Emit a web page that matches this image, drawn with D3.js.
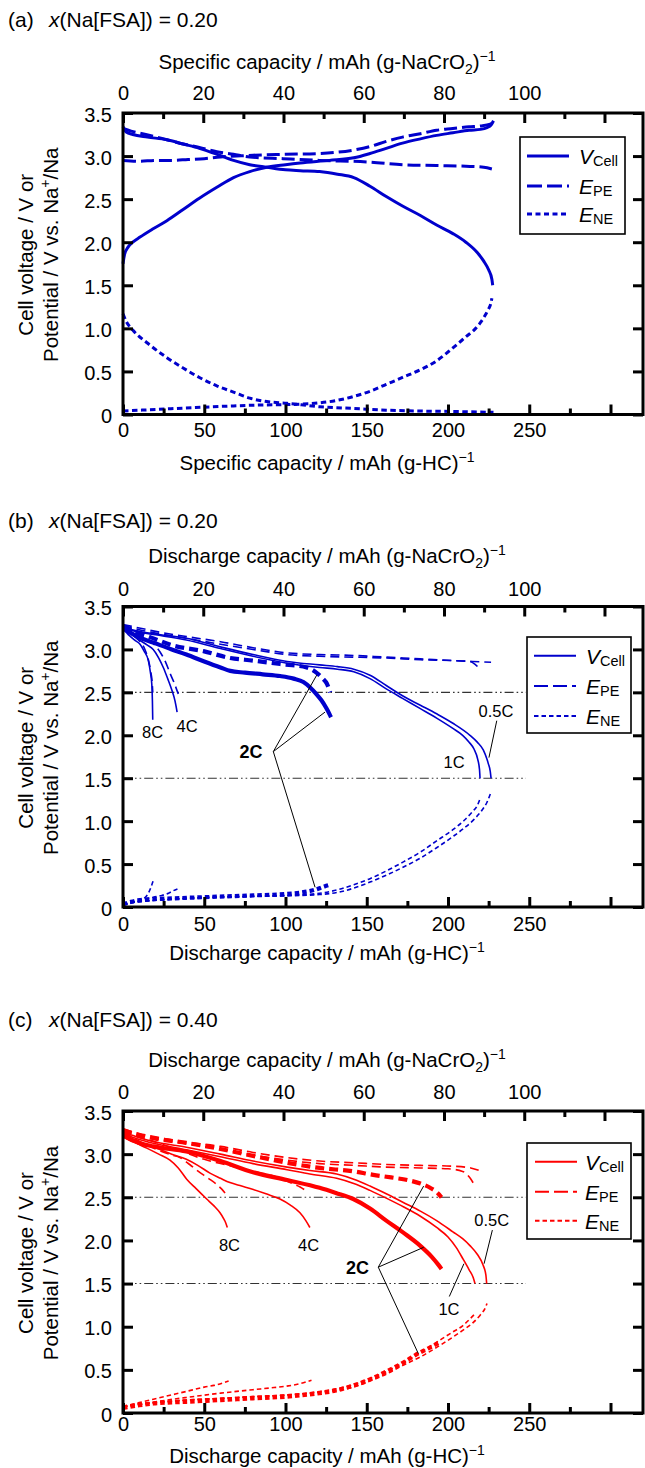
<!DOCTYPE html>
<html>
<head>
<meta charset="utf-8">
<script src="https://cdn.jsdelivr.net/npm/d3@7"></script>
<style>
  body { margin: 0; background: #fff; }
  svg { display: block; }
  text { font-family: "Liberation Sans", Arial, Helvetica, sans-serif; fill: #000; }
</style>
</head>
<body>
<svg id="fig" width="645" height="1468"></svg>
<script>
// ---------- axis ticks ----------
const Y_TICKS = [0, 0.5, 1.0, 1.5, 2.0, 2.5, 3.0, 3.5];
const Y_TICK_LABELS = ["0", "0.5", "1.0", "1.5", "2.0", "2.5", "3.0", "3.5"];
const HC_TICKS = [0, 50, 100, 150, 200, 250, 300];
const HC_TICK_LABELS = ["0", "50", "100", "150", "200", "250", ""];
const HC_MINOR = [25, 75, 125, 175, 225, 275];
const CR_TICKS = [0, 20, 40, 60, 80, 100, 120];
const CR_TICK_LABELS = ["0", "20", "40", "60", "80", "100", ""];
const CR_MINOR = [10, 30, 50, 70, 90, 110];
const REF_LEVELS = [2.5, 1.5];

// ---------- (a) charge / discharge, x(Na[FSA]) = 0.20 ----------
// points are [capacity / mAh (g-HC)^-1, voltage / V]
const A_VCELL_CHG = [[0,1.75],[1,1.86],[3,1.94],[6,2.0],[10.5,2.06],[18,2.15],[27,2.25],[37,2.38],[47,2.51],[58,2.64],[68,2.75],[78,2.82],[88.5,2.87],[100,2.9],[109,2.92],[127,2.95],[142,2.98],[152,3.03],[162,3.09],[172,3.15],[183,3.2],[193,3.24],[203,3.27],[213,3.3],[220,3.31],[224,3.33],[226.5,3.36],[228,3.41]];
const A_VCELL_DIS = [[0,3.34],[2,3.28],[6,3.25],[15,3.22],[27,3.19],[37,3.14],[47,3.09],[58,3.02],[68,2.95],[78,2.9],[88.5,2.87],[100,2.84],[109,2.83],[121,2.82],[132,2.79],[142,2.75],[152,2.65],[162,2.53],[172,2.42],[183,2.31],[193,2.2],[203,2.1],[211,2.0],[218,1.88],[222,1.78],[225,1.68],[227,1.57],[227.5,1.5]];
const A_EPE_CHG = [[0,2.95],[10,2.94],[20,2.95],[30,2.95],[40,2.96],[50,2.97],[60,2.99],[70,3.0],[80,3.01],[100,3.02],[121,3.03],[142,3.07],[152,3.11],[162,3.17],[172,3.22],[183,3.26],[193,3.3],[203,3.32],[213,3.34],[220,3.35],[226,3.37],[228,3.4]];
const A_EPE_DIS = [[0,3.32],[5,3.29],[16.6,3.24],[27,3.19],[37,3.14],[47,3.1],[57.7,3.05],[68,3.02],[78,2.99],[98.5,2.97],[121,2.95],[152,2.93],[172,2.9],[193,2.89],[213.5,2.88],[222,2.87],[227,2.85]];
const A_ENE_CHG = [[0,1.17],[2,1.08],[6,0.98],[15,0.83],[27,0.66],[37,0.54],[47,0.43],[58,0.33],[68,0.26],[78,0.19],[88.5,0.15],[101,0.13],[121,0.09],[142,0.07],[162,0.05],[183,0.04],[203,0.035],[228,0.025]];
const A_ENE_DIS = [[0,0.04],[27,0.065],[50,0.085],[68,0.1],[85,0.11],[101,0.115],[121,0.135],[132,0.165],[142,0.21],[152,0.27],[162,0.35],[172,0.43],[183,0.52],[192,0.61],[199,0.71],[206,0.82],[211.5,0.91],[216,0.98],[219.7,1.06],[222.5,1.14],[224.8,1.22],[226.5,1.3],[227,1.35]];

// ---------- (b) rate capability, x(Na[FSA]) = 0.20 ----------
const B_V_05C = [[0,3.27],[2.3,3.25],[10,3.21],[20,3.18],[39,3.13],[60,3.03],[80,2.94],[101,2.86],[121,2.82],[132,2.8],[142,2.77],[152,2.7],[162,2.58],[172,2.46],[183,2.35],[193,2.25],[203,2.14],[213.5,2.0],[218,1.92],[221.7,1.83],[224,1.72],[224.8,1.67],[226,1.58],[226.5,1.5]];
const B_V_1C = [[0,3.26],[2.3,3.24],[10,3.2],[20,3.17],[39,3.11],[60,3.01],[80,2.92],[101,2.84],[121,2.79],[132,2.77],[142,2.74],[152,2.66],[162,2.54],[172,2.43],[183,2.31],[193,2.2],[203,2.08],[209,2.0],[213,1.92],[216,1.84],[218.3,1.72],[219.4,1.6],[219.7,1.5]];
const B_V_2C = [[0,3.25],[5,3.19],[10,3.14],[18.6,3.08],[30,3.0],[39,2.94],[50,2.86],[60,2.79],[66,2.75],[75,2.73],[86,2.71],[96.7,2.69],[105,2.66],[111,2.62],[115,2.56],[119,2.48],[122,2.41],[125,2.32],[127,2.25],[128,2.21]];
const B_V_4C = [[0,3.25],[5,3.18],[10,3.11],[15,3.05],[18.6,3.0],[22,2.9],[24.8,2.79],[27.5,2.66],[30,2.53],[32,2.4],[33.3,2.27]];
const B_V_8C = [[0,3.24],[4,3.16],[7,3.11],[10.5,3.06],[13,2.98],[15.6,2.87],[16.8,2.74],[17.7,2.6],[18.1,2.4],[18.3,2.18]];
const B_EPE_05C = [[0,3.29],[10,3.25],[20,3.21],[39,3.15],[60,3.09],[80,3.02],[101,2.96],[121,2.94],[142,2.93],[162,2.91],[183,2.89],[203,2.87],[215,2.86],[226.5,2.85]];
const B_EPE_1C = [[0,3.28],[10,3.23],[20,3.19],[39,3.13],[60,3.06],[80,3.0],[101,2.94],[121,2.92],[142,2.91],[162,2.9],[183,2.88],[203,2.87],[213.5,2.86],[217,2.82],[219.7,2.77]];
const B_EPE_2C = [[0,3.27],[10,3.19],[20,3.12],[30,3.05],[49.5,2.98],[66,2.9],[80,2.87],[96.7,2.83],[113,2.79],[119,2.73],[123,2.66],[125.5,2.6],[127.5,2.5]];
const B_EPE_4C = [[0,3.27],[10,3.17],[18,3.08],[22.8,2.97],[26,2.86],[29,2.72],[31.5,2.61],[34,2.48]];
const B_EPE_8C = [[0,3.27],[6,3.17],[10,3.1],[13.5,3.0],[15.6,2.88],[17,2.75],[18,2.6],[18.3,2.5]];
const B_ENE_05C = [[0,0.02],[5,0.05],[15,0.07],[29,0.09],[50,0.11],[80,0.125],[101,0.13],[121,0.145],[132,0.17],[142,0.22],[152,0.29],[162,0.37],[172,0.46],[183,0.57],[193,0.69],[203,0.82],[210,0.92],[216,1.02],[221,1.13],[224,1.22],[226.5,1.34]];
const B_ENE_1C = [[0,0.02],[5,0.05],[15,0.07],[29,0.09],[50,0.11],[80,0.125],[101,0.135],[121,0.16],[132,0.2],[142,0.26],[152,0.33],[162,0.42],[172,0.52],[183,0.64],[193,0.77],[203,0.9],[210,1.01],[215,1.11],[218,1.18],[219.7,1.26]];
const B_ENE_2C = [[0,0.03],[5,0.06],[10,0.08],[17,0.09],[30,0.1],[58,0.12],[80,0.135],[99,0.15],[110,0.17],[118,0.2],[124,0.24],[127.5,0.26]];
const B_ENE_4C = [[0,0.03],[8,0.07],[15,0.1],[22.8,0.13],[28,0.16],[31,0.19],[33.5,0.21]];
const B_ENE_8C = [[0,0.03],[5,0.05],[10.5,0.07],[13,0.1],[15.6,0.16],[17.2,0.23],[18.5,0.3]];

// ---------- (c) rate capability, x(Na[FSA]) = 0.40 ----------
const C_V_05C = [[0,3.25],[2.3,3.24],[10,3.19],[20,3.14],[39,3.08],[60,3.0],[80,2.92],[101,2.85],[115,2.81],[131.5,2.77],[142,2.71],[152,2.63],[162,2.54],[172.5,2.44],[183,2.34],[193,2.23],[203,2.1],[209,2.02],[213.5,1.94],[218,1.84],[221.7,1.71],[223.3,1.6],[223.8,1.5]];
const C_V_1C = [[0,3.24],[10,3.17],[20,3.12],[39,3.05],[60,2.97],[80,2.89],[101,2.82],[115,2.77],[131.5,2.72],[142,2.66],[152,2.58],[162,2.49],[172.5,2.39],[183,2.28],[193,2.15],[200,2.04],[205,1.92],[209.4,1.78],[213,1.66],[215.5,1.57],[216.6,1.5]];
const C_V_2C = [[0,3.22],[5,3.17],[10,3.13],[18.7,3.09],[39,3.03],[60,2.92],[80,2.79],[101,2.7],[121,2.61],[131,2.55],[141.7,2.48],[152,2.37],[162,2.23],[172.5,2.09],[182.8,1.94],[190,1.81],[194,1.72],[196,1.67]];
const C_V_4C = [[0,3.2],[5,3.15],[10,3.12],[18.7,3.08],[30,3.0],[39,2.94],[46,2.87],[53.5,2.78],[60,2.72],[65.8,2.67],[73,2.63],[80.2,2.59],[88,2.54],[96.6,2.48],[103,2.41],[108.9,2.32],[112.5,2.23],[115,2.15]];
const C_V_8C = [[0,3.2],[4.3,3.17],[10,3.11],[14.6,3.07],[22,3.0],[28.9,2.93],[34,2.84],[39.2,2.71],[45,2.6],[51.5,2.48],[56,2.4],[59.7,2.32],[62,2.25],[63.3,2.2],[64.2,2.15]];
const C_EPE_05C = [[0,3.29],[10,3.24],[20,3.2],[39,3.14],[60,3.09],[80,3.02],[101,2.96],[121,2.92],[142,2.9],[162,2.88],[183,2.87],[203,2.86],[214,2.84],[220.7,2.8]];
const C_EPE_1C = [[0,3.28],[10,3.22],[20,3.18],[39,3.12],[60,3.06],[80,2.99],[101,2.93],[121,2.89],[142,2.87],[162,2.85],[183,2.84],[200,2.83],[209,2.8],[213.7,2.72],[216.6,2.63]];
const C_EPE_2C = [[0,3.28],[10,3.22],[20,3.18],[39,3.13],[60,3.06],[80,2.98],[101,2.9],[121,2.84],[142,2.8],[154,2.76],[165,2.73],[175,2.7],[183,2.66],[189,2.61],[193,2.56],[196,2.5]];
const C_EPE_4C = [[0,3.27],[10,3.2],[20,3.14],[35,3.04],[50,2.94],[65,2.87],[80,2.8],[90,2.76],[96.6,2.72],[104,2.66],[109,2.62],[113,2.57]];
const C_EPE_8C = [[0,3.26],[10,3.15],[20,3.06],[30,2.99],[35,2.96],[41,2.88],[46.4,2.8],[52.5,2.72],[57.6,2.65],[60.5,2.6],[62.8,2.55]];
const C_ENE_05C = [[0,0.07],[2.3,0.09],[20,0.12],[39,0.15],[60,0.17],[80,0.19],[101,0.21],[121,0.24],[131,0.26],[142,0.3],[152,0.37],[162,0.45],[172,0.55],[183,0.65],[193,0.76],[203,0.88],[210,0.97],[215.6,1.05],[220,1.14],[223,1.22],[224,1.27]];
const C_ENE_1C = [[0,0.07],[20,0.12],[39,0.15],[60,0.17],[80,0.19],[101,0.21],[121,0.25],[131,0.28],[142,0.33],[152,0.4],[162,0.48],[172,0.58],[183,0.7],[193,0.82],[203,0.94],[209,1.01],[213,1.08],[216.6,1.15]];
const C_ENE_2C = [[0,0.06],[10,0.09],[18.7,0.11],[39,0.13],[60,0.15],[80,0.17],[101,0.19],[121,0.23],[131,0.26],[142,0.32],[152,0.39],[162,0.48],[172,0.58],[181.7,0.69],[188,0.75],[195,0.82]];
const C_ENE_4C = [[0,0.07],[10,0.1],[20,0.13],[39,0.18],[60,0.23],[80,0.27],[90.5,0.29],[100,0.31],[109,0.34],[116,0.38]];
const C_ENE_8C = [[0,0.07],[10,0.12],[18.7,0.16],[30,0.21],[39,0.25],[50,0.3],[56,0.32],[65,0.37]];

// ---------- layout ----------
const X0 = 123, X1 = 643;
const HC_MAX = 320, CR_MAX = 129.6, V_MAX = 3.5;
const BLUE = "#0000cc", RED = "#ff0000";
const FONT = 20;

const svg = d3.select("#fig");
const x = d3.scaleLinear().domain([0, HC_MAX]).range([X0, X1]);
const x2 = d3.scaleLinear().domain([0, CR_MAX]).range([X0, X1]);

// text with sub/superscript and italic runs
function rich(sel, parts, size) {
  let shift = 0;
  parts.forEach(p => {
    const target = p.sub ? p.sub : (p.sup ? -p.sup : 0);
    const ts = sel.append("tspan").text(p.t).attr("dy", target - shift);
    shift = target;
    if (p.fs) ts.attr("font-size", p.fs);
    if (p.it) ts.attr("font-style", "italic");
  });
  return sel;
}

function drawPanel(cfg) {
  const y = d3.scaleLinear().domain([0, V_MAX]).range([cfg.bottom, cfg.top]);
  const g = svg.append("g");
  const line = d3.line().x(d => x(d[0])).y(d => y(d[1])).curve(d3.curveMonotoneX);

  // panel heading
  const head = g.append("text").attr("x", 8).attr("y", cfg.top - cfg.headOff).attr("font-size", 21);
  head.append("tspan").text(cfg.tag);
  head.append("tspan").attr("x", 49).attr("font-style", "italic").text("x");
  head.append("tspan").text("(Na[FSA]) = " + cfg.frac);

  // cut-off reference lines
  if (cfg.refs) {
    g.selectAll(".ref").data(REF_LEVELS).join("line")
      .attr("x1", x(0)).attr("x2", x(248))
      .attr("y1", d => y(d)).attr("y2", d => y(d))
      .attr("stroke", "#333").attr("stroke-width", 1.1)
      .attr("stroke-dasharray", "9,3,1.6,3,1.6,3");
  }

  // curves
  cfg.series.forEach(s => {
    g.append("path").attr("d", line(s.data))
      .attr("fill", "none").attr("stroke", cfg.color)
      .attr("stroke-width", s.w)
      .attr("stroke-linejoin", "round")
      .attr("stroke-dasharray", cfg.dash[s.kind]);
  });

  // annotation leaders and labels
  (cfg.leaders || []).forEach(l => {
    g.append("line").attr("x1", x(l[0][0])).attr("y1", y(l[0][1]))
      .attr("x2", x(l[1][0])).attr("y2", y(l[1][1]))
      .attr("stroke", "#000").attr("stroke-width", 1);
  });
  (cfg.notes || []).forEach(n => {
    g.append("text").attr("x", x(n.at[0])).attr("y", y(n.at[1]))
      .attr("text-anchor", "middle")
      .attr("font-size", n.bold ? 18 : 16.5)
      .attr("font-weight", n.bold ? "bold" : "normal")
      .text(n.t);
  });

  // frame
  g.append("rect").attr("x", X0).attr("y", cfg.top)
    .attr("width", X1 - X0).attr("height", cfg.bottom - cfg.top)
    .attr("fill", "none").attr("stroke", "#000").attr("stroke-width", 3);

  const styleAxis = sel => {
    sel.select(".domain").remove();
    sel.attr("font-size", FONT).attr("font-family", null);
    sel.selectAll(".tick line").attr("stroke-width", 3);
  };
  const labelOf = (ticks, labels) => d => labels[ticks.indexOf(d)];

  // left / right
  g.append("g").attr("transform", `translate(${X0},0)`)
    .call(d3.axisLeft(y).tickValues(Y_TICKS).tickSizeInner(-10).tickSizeOuter(0)
      .tickPadding(11).tickFormat(labelOf(Y_TICKS, Y_TICK_LABELS)))
    .call(styleAxis)
    .call(s => s.selectAll(".tick text").attr("dy", "0.4em"));
  g.append("g").attr("transform", `translate(${X1},0)`)
    .call(d3.axisRight(y).tickValues(Y_TICKS).tickSizeInner(-10).tickSizeOuter(0).tickFormat(""))
    .call(styleAxis);

  // bottom (hard carbon)
  g.append("g").attr("transform", `translate(0,${cfg.bottom})`)
    .call(d3.axisBottom(x).tickValues(HC_TICKS).tickSizeInner(-10).tickSizeOuter(0)
      .tickPadding(cfg.botPad).tickFormat(labelOf(HC_TICKS, HC_TICK_LABELS)))
    .call(styleAxis);
  g.append("g").attr("transform", `translate(0,${cfg.bottom})`)
    .call(d3.axisBottom(x).tickValues(HC_MINOR).tickSizeInner(-6).tickSizeOuter(0).tickFormat(""))
    .call(styleAxis);

  // top (NaCrO2)
  g.append("g").attr("transform", `translate(0,${cfg.top})`)
    .call(d3.axisTop(x2).tickValues(CR_TICKS).tickSizeInner(-10).tickSizeOuter(0)
      .tickPadding(cfg.topPad).tickFormat(labelOf(CR_TICKS, CR_TICK_LABELS)))
    .call(styleAxis);
  g.append("g").attr("transform", `translate(0,${cfg.top})`)
    .call(d3.axisTop(x2).tickValues(CR_MINOR).tickSizeInner(-6).tickSizeOuter(0).tickFormat(""))
    .call(styleAxis);

  // axis titles
  const TX = 327;
  rich(g.append("text").attr("x", TX).attr("y", cfg.top - 44).attr("text-anchor", "middle").attr("font-size", 20.5),
    [{ t: cfg.word + " capacity / mAh (g-NaCrO" }, { t: "2", sub: 5, fs: 14 }, { t: ")" }, { t: "−1", sup: 8, fs: 14 }]);
  rich(g.append("text").attr("x", TX).attr("y", cfg.bottom + cfg.botTitle).attr("text-anchor", "middle").attr("font-size", 20.5),
    [{ t: cfg.word + " capacity / mAh (g-HC)" }, { t: "−1", sup: 8, fs: 14 }]);

  const cy = (cfg.top + cfg.bottom) / 2 - 9;
  g.append("text").attr("transform", `translate(33,${cy}) rotate(-90)`)
    .attr("text-anchor", "middle").attr("font-size", 20.5).text("Cell voltage / V or");
  rich(g.append("text").attr("transform", `translate(58,${cy}) rotate(-90)`)
    .attr("text-anchor", "middle").attr("font-size", 20.5),
    [{ t: "Potential / V vs. Na" }, { t: "+", sup: 8, fs: 14 }, { t: "/Na" }]);

  // legend
  const L = cfg.legend;
  g.append("rect").attr("x", L.x).attr("y", L.y).attr("width", L.w).attr("height", L.h)
    .attr("fill", "#fff").attr("stroke", "#000").attr("stroke-width", 1.6);
  const items = [
    { kind: "V", main: "V", sub: "Cell" },
    { kind: "PE", main: "E", sub: "PE" },
    { kind: "NE", main: "E", sub: "NE" }
  ];
  items.forEach((it, i) => {
    const ry = L.y + L.rows[i];
    g.append("line").attr("x1", L.x + L.s0).attr("x2", L.x + L.s1)
      .attr("y1", ry).attr("y2", ry)
      .attr("stroke", cfg.color).attr("stroke-width", L.sw)
      .attr("stroke-dasharray", L.dash[it.kind]);
    rich(g.append("text").attr("x", L.x + L.tx).attr("y", ry + 8).attr("font-size", 21),
      [{ t: it.main, it: true }, { t: it.sub, sub: 2, fs: 14.5 }]);
  });
}

// ---------- panel (a) ----------
drawPanel({
  tag: "(a)", frac: "0.20", word: "Specific", color: BLUE,
  top: 113, bottom: 414.5, headOff: 86, topPad: 13, botPad: 8, botTitle: 55,
  refs: false,
  dash: { V: null, PE: "13,5", NE: "5.5,3.5" },
  series: [
    { data: A_VCELL_CHG, kind: "V", w: 3 },
    { data: A_VCELL_DIS, kind: "V", w: 3 },
    { data: A_EPE_CHG, kind: "PE", w: 3 },
    { data: A_EPE_DIS, kind: "PE", w: 3 },
    { data: A_ENE_CHG, kind: "NE", w: 3 },
    { data: A_ENE_DIS, kind: "NE", w: 3 }
  ],
  legend: { x: 520, y: 137, w: 105, h: 97, rows: [19, 49, 77], s0: 7, s1: 49, tx: 59, sw: 3,
    dash: { V: null, PE: "15,5", NE: "5,3.5" } }
});

// ---------- panel (b) ----------
const THIN = 1.6, BOLD = 4.2;
drawPanel({
  tag: "(b)", frac: "0.20", word: "Discharge", color: BLUE,
  top: 606.5, bottom: 907, headOff: 79, topPad: 11, botPad: 10, botTitle: 53,
  refs: true,
  dash: { V: null, PE: "9,5", NE: "4.5,3" },
  series: [
    { data: B_EPE_05C, kind: "PE", w: THIN },
    { data: B_EPE_1C, kind: "PE", w: THIN },
    { data: B_EPE_2C, kind: "PE", w: BOLD },
    { data: B_EPE_4C, kind: "PE", w: THIN },
    { data: B_EPE_8C, kind: "PE", w: THIN },
    { data: B_ENE_05C, kind: "NE", w: THIN },
    { data: B_ENE_1C, kind: "NE", w: THIN },
    { data: B_ENE_2C, kind: "NE", w: BOLD },
    { data: B_ENE_4C, kind: "NE", w: THIN },
    { data: B_ENE_8C, kind: "NE", w: THIN },
    { data: B_V_05C, kind: "V", w: THIN },
    { data: B_V_1C, kind: "V", w: THIN },
    { data: B_V_2C, kind: "V", w: BOLD },
    { data: B_V_4C, kind: "V", w: THIN },
    { data: B_V_8C, kind: "V", w: THIN }
  ],
  notes: [
    { t: "8C", at: [18.2, 1.965] },
    { t: "4C", at: [39.4, 2.04] },
    { t: "2C", at: [78.8, 1.73], bold: true },
    { t: "1C", at: [203.7, 1.62] },
    { t: "0.5C", at: [229.5, 2.21] }
  ],
  leaders: [
    [[92.5, 1.81], [119.2, 2.70]],
    [[92.5, 1.81], [124.3, 2.27]],
    [[92.5, 1.81], [118.2, 0.23]],
    [[230, 2.17], [225.2, 1.74]]
  ],
  legend: { x: 527, y: 637, w: 104, h: 96, rows: [18.7, 49, 79], s0: 7, s1: 49, tx: 59, sw: 2,
    dash: { V: null, PE: "14,5", NE: "4.5,3" } }
});

// ---------- panel (c) ----------
drawPanel({
  tag: "(c)", frac: "0.40", word: "Discharge", color: RED,
  top: 1111, bottom: 1413, headOff: 84, topPad: 12, botPad: 4, botTitle: 50,
  refs: true,
  dash: { V: null, PE: "9,5", NE: "4.5,3" },
  series: [
    { data: C_EPE_05C, kind: "PE", w: THIN },
    { data: C_EPE_1C, kind: "PE", w: THIN },
    { data: C_EPE_2C, kind: "PE", w: BOLD },
    { data: C_EPE_4C, kind: "PE", w: THIN },
    { data: C_EPE_8C, kind: "PE", w: THIN },
    { data: C_ENE_05C, kind: "NE", w: THIN },
    { data: C_ENE_1C, kind: "NE", w: THIN },
    { data: C_ENE_2C, kind: "NE", w: BOLD },
    { data: C_ENE_4C, kind: "NE", w: THIN },
    { data: C_ENE_8C, kind: "NE", w: THIN },
    { data: C_V_05C, kind: "V", w: THIN },
    { data: C_V_1C, kind: "V", w: THIN },
    { data: C_V_2C, kind: "V", w: BOLD },
    { data: C_V_4C, kind: "V", w: THIN },
    { data: C_V_8C, kind: "V", w: THIN }
  ],
  notes: [
    { t: "8C", at: [65.5, 1.88] },
    { t: "4C", at: [114.2, 1.88] },
    { t: "2C", at: [144.3, 1.615], bold: true },
    { t: "1C", at: [200.6, 1.13] },
    { t: "0.5C", at: [226.9, 2.17] }
  ],
  leaders: [
    [[157.1, 1.69], [185, 2.63]],
    [[157.1, 1.69], [185, 1.92]],
    [[157.1, 1.69], [181.7, 0.69]],
    [[227.3, 2.12], [222.2, 1.73]],
    [[200.8, 1.35], [209.8, 1.73]]
  ],
  legend: { x: 527, y: 1143, w: 104, h: 96, rows: [18.7, 48.7, 77.7], s0: 8, s1: 50, tx: 58, sw: 2,
    dash: { V: null, PE: "14,5", NE: "4.5,3" } }
});
</script>
</body>
</html>
